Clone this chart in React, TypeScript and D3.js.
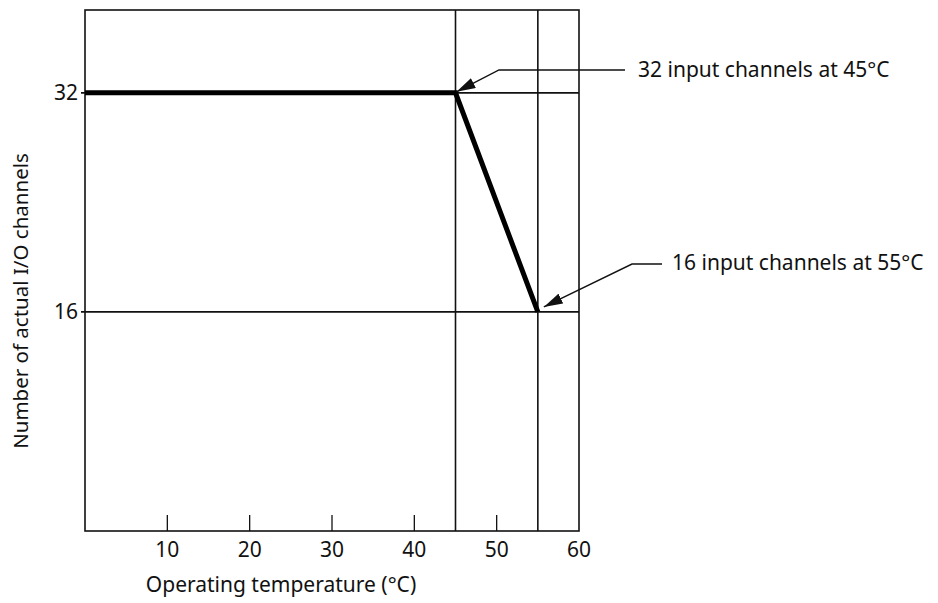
import { useEffect, useRef } from "react";
import * as d3 from "d3";

// derating curve: channels vs temperature
const temps = [0, 45, 55];
const channels = [32, 32, 16];
const xTicks = [10, 20, 30, 40, 50, 60];
const yTicks = [16, 32];
const refTemps = [45, 55];
const calloutLabels = ["32 input channels at 45°C", "16 input channels at 55°C"];

export default function App() {
  const ref = useRef<SVGSVGElement>(null);

  useEffect(() => {
    const svg = d3.select(ref.current);
    svg.selectAll("*").remove();

    const left = 85, right = 579, top = 10, bottom = 531;
    const font = "'Noto Sans', sans-serif";
    const fs = 21;

    const x = d3.scaleLinear().domain([0, 60]).range([left, right]);
    const y = d3.scaleLinear().domain([0, 38.05]).range([bottom, top]);

    const g = svg.append("g");

    // arrow marker (stretched, not kept square)
    svg.append("defs").append("marker")
      .attr("id", "arrow")
      .attr("viewBox", "0 0 10 10")
      .attr("preserveAspectRatio", "none")
      .attr("refX", 10).attr("refY", 5)
      .attr("markerWidth", 19).attr("markerHeight", 11)
      .attr("markerUnits", "userSpaceOnUse")
      .attr("orient", "auto")
      .append("path")
      .attr("d", "M0,0 L10,5 L0,10 Z")
      .attr("fill", "#111");

    // frame
    g.append("rect")
      .attr("x", left).attr("y", top)
      .attr("width", right - left).attr("height", bottom - top)
      .attr("fill", "none").attr("stroke", "#111").attr("stroke-width", 1.6);

    // horizontal reference lines
    yTicks.forEach((v) => {
      g.append("line")
        .attr("x1", left - 4).attr("x2", right)
        .attr("y1", y(v)).attr("y2", y(v))
        .attr("stroke", "#111").attr("stroke-width", 1.6);
      g.append("text")
        .attr("x", left - 7).attr("y", y(v))
        .attr("dy", "0.35em")
        .attr("text-anchor", "end")
        .attr("font-family", font).attr("font-size", fs)
        .attr("fill", "#111")
        .text(v);
    });

    // vertical reference lines
    refTemps.forEach((t) => {
      g.append("line")
        .attr("x1", x(t)).attr("x2", x(t))
        .attr("y1", top).attr("y2", bottom)
        .attr("stroke", "#111").attr("stroke-width", 1.6);
    });

    // x ticks (inside) and labels
    xTicks.forEach((t) => {
      if (t < 60) {
        g.append("line")
          .attr("x1", x(t)).attr("x2", x(t))
          .attr("y1", bottom).attr("y2", bottom - 16)
          .attr("stroke", "#111").attr("stroke-width", 1.3);
      }
      g.append("text")
        .attr("x", x(t)).attr("y", 557)
        .attr("text-anchor", "middle")
        .attr("font-family", font).attr("font-size", fs)
        .attr("fill", "#111")
        .text(t);
    });

    // the curve
    const line = d3.line<number>()
      .x((d, i) => x(temps[i]))
      .y((d) => y(d));
    g.append("path")
      .datum(channels)
      .attr("fill", "none")
      .attr("stroke", "#000")
      .attr("stroke-width", 5)
      .attr("stroke-linejoin", "miter")
      .attr("d", line);

    // callouts
    const c1 = { tx: x(45), ty: y(32) };
    g.append("path")
      .attr("d", `M625,70 L499,70 L${c1.tx + 1},${c1.ty - 1}`)
      .attr("fill", "none").attr("stroke", "#111").attr("stroke-width", 1.4)
      .attr("marker-end", "url(#arrow)");
    g.append("text")
      .attr("x", 638).attr("y", 77)
      .attr("font-family", font).attr("font-size", fs)
      .attr("fill", "#111")
      .text(calloutLabels[0]);

    const c2 = { tx: x(55), ty: y(16) };
    g.append("path")
      .attr("d", `M662,264 L632,264 L${c2.tx + 6},${c2.ty - 5}`)
      .attr("fill", "none").attr("stroke", "#111").attr("stroke-width", 1.4)
      .attr("marker-end", "url(#arrow)");
    g.append("text")
      .attr("x", 672).attr("y", 270)
      .attr("font-family", font).attr("font-size", fs)
      .attr("fill", "#111")
      .text(calloutLabels[1]);

    // axis titles
    g.append("text")
      .attr("x", 281).attr("y", 592)
      .attr("text-anchor", "middle")
      .attr("font-family", font).attr("font-size", fs)
      .attr("fill", "#111")
      .text("Operating temperature (°C)");
    g.append("text")
      .attr("transform", `translate(28,301) rotate(-90)`)
      .attr("text-anchor", "middle")
      .attr("font-family", font).attr("font-size", 20.5)
      .attr("fill", "#111")
      .text("Number of actual I/O channels");
  }, []);

  return (
    <svg ref={ref} width={938} height={603}
      style={{ position: "absolute", left: 0, top: 0, background: "#fff" }} />
  );
}
